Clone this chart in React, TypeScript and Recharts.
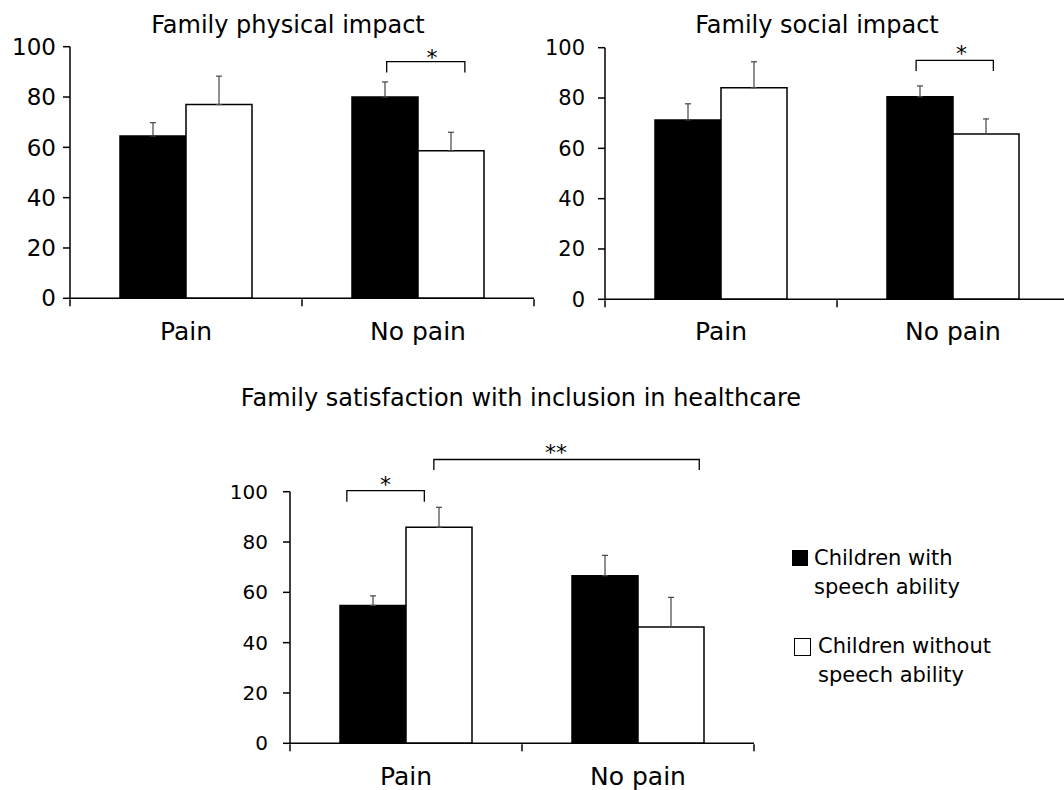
import React from 'react';
import { BarChart, Bar, XAxis, YAxis, ErrorBar, ReferenceArea, ReferenceDot } from 'recharts';

const categories = ['Pain', 'No pain'];
const seriesNames = ['Children with speech ability', 'Children without speech ability'];
const yTicks = [0, 20, 40, 60, 80, 100];

// Family physical impact
const physicalWith = [64.5, 80.0];
const physicalWithErr = [5.3, 6.0];
const physicalWithout = [77.0, 58.6];
const physicalWithoutErr = [11.3, 7.4];

// Family social impact
const socialWith = [71.3, 80.5];
const socialWithErr = [6.4, 4.3];
const socialWithout = [84.1, 65.7];
const socialWithoutErr = [10.3, 6.0];

// Family satisfaction with inclusion in healthcare
const satisfactionWith = [54.8, 66.6];
const satisfactionWithErr = [3.8, 8.1];
const satisfactionWithout = [85.9, 46.2];
const satisfactionWithoutErr = [7.9, 11.8];

// significance brackets, x in category units (0..2), y in score units
type Bracket = { from: number; to: number; low: number; high: number; mark: string; markX: number; markY: number };
const physicalBrackets: Bracket[] = [{ from: 1.365, to: 1.702, low: 89.7, high: 94.1, mark: '*', markX: 1.56, markY: 97.8 }];
const socialBrackets: Bracket[] = [{ from: 1.341, to: 1.674, low: 90.7, high: 95.0, mark: '*', markX: 1.537, markY: 100.1 }];
const satisfactionBrackets: Bracket[] = [
  { from: 0.245, to: 0.579, low: 96.0, high: 100.4, mark: '*', markX: 0.412, markY: 105.0 },
  { from: 0.62, to: 1.764, low: 108.6, high: 112.8, mark: '**', markX: 1.147, markY: 117.9 },
];

const PLOT_W = 464;
const AXIS = { stroke: '#000', strokeWidth: 1.5 };

function buildRows(withVals: number[], withErr: number[], withoutVals: number[], withoutErr: number[]) {
  return categories.map((name, i) => ({
    name,
    slot: i + 0.5, // category centre on the 0..2 edge axis
    withSpeech: withVals[i],
    withErr: [0, withErr[i]],
    withoutSpeech: withoutVals[i],
    withoutErr: [0, withoutErr[i]],
  }));
}

const BracketShape = (p: any) => {
  const { x, y, width, height } = p;
  return <path d={`M${x},${y + height}V${y}H${x + width}V${y + height}`} fill="none" stroke="#000" strokeWidth={1.3} />;
};

const NoLabel = () => <g />;

interface PanelProps {
  rows: any[];
  brackets: Bracket[];
  width: number;
  height: number;
  yAxisWidth: number;
  top: number;
  bottom: number;
  tickFont: number;
  tickMargin: number;
  labelMargin: number;
}

function Panel({ rows, brackets, width, height, yAxisWidth, top, bottom, tickFont, tickMargin, labelMargin }: PanelProps) {
  return (
    <BarChart
      width={width}
      height={height}
      data={rows}
      margin={{ top, right: width - yAxisWidth - PLOT_W, bottom: bottom - 2, left: 0 }}
      barGap={0}
      barSize={66}
    >
      <XAxis
        dataKey="name"
        height={1}
        interval={0}
        tickLine={false}
        tickSize={0}
        tickMargin={labelMargin}
        axisLine={AXIS}
        tick={{ fill: '#000', fontSize: 25 }}
      />
      <XAxis
        xAxisId="edges"
        dataKey="slot"
        type="number"
        domain={[0, 2]}
        ticks={[0, 1, 2]}
        interval={0}
        allowDataOverflow
        height={1}
        tick={NoLabel}
        axisLine={false}
        tickSize={7}
        tickLine={AXIS}
      />
      <YAxis
        type="number"
        domain={[0, 100]}
        ticks={yTicks}
        width={yAxisWidth}
        tickSize={7}
        tickMargin={tickMargin}
        axisLine={AXIS}
        tickLine={AXIS}
        tick={{ fill: '#000', fontSize: tickFont }}
      />
      <Bar dataKey="withSpeech" name={seriesNames[0]} fill="#000" stroke="#000" strokeWidth={1.5} isAnimationActive={false}>
        <ErrorBar dataKey="withErr" direction="y" width={3} stroke="#444" strokeWidth={1.2} isAnimationActive={false} />
      </Bar>
      <Bar dataKey="withoutSpeech" name={seriesNames[1]} fill="#fff" stroke="#000" strokeWidth={1.5} isAnimationActive={false}>
        <ErrorBar dataKey="withoutErr" direction="y" width={3} stroke="#444" strokeWidth={1.2} isAnimationActive={false} />
      </Bar>
      {brackets.map((b, i) => (
        <ReferenceArea
          key={`br-${i}`}
          xAxisId="edges"
          x1={b.from}
          x2={b.to}
          y1={b.low}
          y2={b.high}
          ifOverflow="visible"
          shape={BracketShape}
        />
      ))}
      {brackets.map((b, i) => (
        <ReferenceDot
          key={`mk-${i}`}
          xAxisId="edges"
          x={b.markX}
          y={b.markY}
          r={0}
          ifOverflow="visible"
          shape={(p: any) => (
            <text x={p.cx} y={p.cy} dy="0.6em" textAnchor="middle" fontSize={22} fill="#000">
              {b.mark}
            </text>
          )}
        />
      ))}
    </BarChart>
  );
}

const titleStyle: React.CSSProperties = {
  position: 'absolute',
  fontSize: 24,
  lineHeight: '24px',
  whiteSpace: 'nowrap',
  transform: 'translateX(-50%)',
  color: '#000',
};

const legendText: React.CSSProperties = {
  position: 'absolute',
  fontSize: 21,
  lineHeight: '29px',
  whiteSpace: 'nowrap',
  color: '#000',
};

export default function App() {
  const physicalRows = buildRows(physicalWith, physicalWithErr, physicalWithout, physicalWithoutErr);
  const socialRows = buildRows(socialWith, socialWithErr, socialWithout, socialWithoutErr);
  const satisfactionRows = buildRows(satisfactionWith, satisfactionWithErr, satisfactionWithout, satisfactionWithoutErr);

  return (
    <div
      style={{
        position: 'absolute',
        left: 0,
        top: 0,
        width: 1064,
        height: 790,
        overflow: 'hidden',
        background: '#fff',
        fontFamily: '"DejaVu Sans", sans-serif',
      }}
    >
      <div style={{ ...titleStyle, left: 288, top: 13 }}>Family physical impact</div>
      <div style={{ ...titleStyle, left: 817, top: 13 }}>Family social impact</div>
      <div style={{ ...titleStyle, left: 521, top: 386.4 }}>Family satisfaction with inclusion in healthcare</div>

      <div style={{ position: 'absolute', left: 0, top: 0 }}>
        <Panel rows={physicalRows} brackets={physicalBrackets} width={540} height={360} yAxisWidth={70}
          top={46.7} bottom={61.7} tickFont={23} tickMargin={7} labelMargin={24} />
      </div>
      <div style={{ position: 'absolute', left: 530, top: 0 }}>
        <Panel rows={socialRows} brackets={socialBrackets} width={545} height={360} yAxisWidth={75}
          top={47.7} bottom={60.7} tickFont={21} tickMargin={13} labelMargin={23} />
      </div>
      <div style={{ position: 'absolute', left: 200, top: 420 }}>
        <Panel rows={satisfactionRows} brackets={satisfactionBrackets} width={560} height={370} yAxisWidth={90}
          top={71.7} bottom={46.7} tickFont={20} tickMargin={15} labelMargin={23.5} />
      </div>

      {/* legend */}
      <div style={{ position: 'absolute', left: 792, top: 550, width: 16, height: 16, background: '#000' }} />
      <div style={{ ...legendText, left: 814, top: 544.2 }}>
        Children with<br />speech ability
      </div>
      <div style={{ position: 'absolute', left: 794, top: 638, width: 15, height: 16, border: '1.5px solid #000', background: '#fff' }} />
      <div style={{ ...legendText, left: 818, top: 632.2 }}>
        Children without<br />speech ability
      </div>
    </div>
  );
}
